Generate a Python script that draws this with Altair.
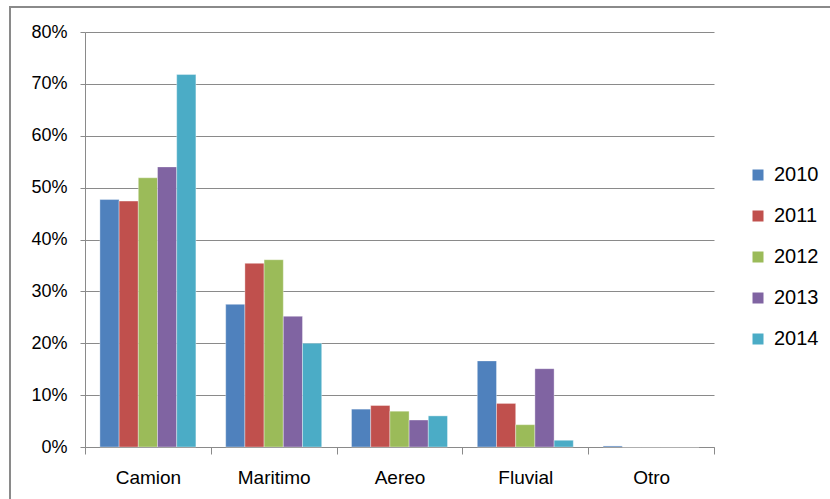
import altair as alt
import pandas as pd

categories = ["Camion", "Maritimo", "Aereo", "Fluvial", "Otro"]
years = ["2010", "2011", "2012", "2013", "2014"]
values = {
    "2010": [0.477, 0.275, 0.073, 0.166, 0.002],
    "2011": [0.474, 0.354, 0.080, 0.084, 0.0],
    "2012": [0.519, 0.361, 0.069, 0.043, 0.0],
    "2013": [0.540, 0.252, 0.052, 0.151, 0.0],
    "2014": [0.718, 0.200, 0.060, 0.013, 0.0],
}
colors = ["#4F81BD", "#C0504D", "#9BBB59", "#8064A2", "#4BACC6"]

rows = []
for y in years:
    for c, v in zip(categories, values[y]):
        rows.append({"Modo": c, "Año": y, "Valor": v})
df = pd.DataFrame(rows)

FONT = "Liberation Sans, sans-serif"
GREY = "#8a8a8a"

bars = alt.Chart(df).mark_bar(stroke="white", strokeWidth=0.6, strokeOpacity=0.6).encode(
    x=alt.X("Modo:N", sort=categories, title=None,
            scale=alt.Scale(paddingInner=0, paddingOuter=0),
            axis=alt.Axis(labelAngle=0, labelFontSize=19, labelFont=FONT, labelColor="#000000",
                          tickBand="extent", tickSize=7, tickColor=GREY, domainColor=GREY,
                          labelPadding=14, grid=False)),
    xOffset=alt.XOffset("Año:N", sort=years,
                        scale=alt.Scale(paddingInner=0, paddingOuter=0.776)),
    y=alt.Y("Valor:Q", title=None,
            scale=alt.Scale(domain=[0, 0.8], nice=False),
            axis=alt.Axis(format=".0%", values=[0, 0.1, 0.2, 0.3, 0.4, 0.5, 0.6, 0.7, 0.8],
                          labelFontSize=18, labelFont=FONT, labelColor="#000000",
                          tickSize=5, tickColor=GREY, domainColor=GREY, gridColor=GREY,
                          gridWidth=1, labelPadding=13)),
    color=alt.Color("Año:N", sort=years, scale=alt.Scale(domain=years, range=colors),
                    legend=alt.Legend(title=None, orient="none", legendX=663, legendY=133,
                                      symbolType="square", symbolSize=121, symbolStrokeWidth=0,
                                      labelFontSize=20, labelFont=FONT, labelColor="#000000",
                                      rowPadding=21, labelOffset=6)),
)

frame_top = alt.Chart(df).mark_rule(color="#8a8a8a", strokeWidth=2).encode(
    x=alt.value(-76), x2=alt.value(760), y=alt.value(-25))
frame_left = alt.Chart(df).mark_rule(color="#8a8a8a", strokeWidth=2).encode(
    x=alt.value(-75), y=alt.value(-25), y2=alt.value(480))

chart = alt.layer(frame_top, frame_left, bars).properties(
    width=629, height=415,
    padding={"left": 85, "top": 32, "right": 116, "bottom": 52},
    autosize=alt.AutoSizeParams(type="none"),
).configure_view(stroke=None)

chart.save("out.html", embed_options={"renderer": "svg", "actions": False})
